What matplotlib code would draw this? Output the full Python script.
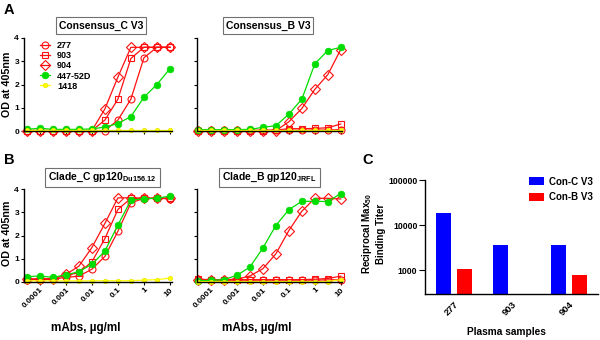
import numpy as np
import matplotlib
matplotlib.use("Agg")
import matplotlib.pyplot as plt

plt.rcParams['font.family'] = ['Liberation Sans', 'DejaVu Sans']
plt.rcParams['font.weight'] = 'bold'
plt.rcParams['mathtext.fontset'] = 'custom'
plt.rcParams['mathtext.rm'] = 'Liberation Sans:bold'
plt.rcParams['mathtext.bf'] = 'Liberation Sans:bold'
plt.rcParams['mathtext.it'] = 'Liberation Sans:bold'

# ---------------- data ----------------
conc = [0.0000316, 0.0001, 0.000316, 0.001, 0.00316, 0.01,
        0.0316, 0.1, 0.316, 1, 3.16, 10]
mabs = ['277', '903', '904', '447-52D', '1418']

# Panel A left: Consensus_C V3
cC_277 = [0.02, 0.02, 0.02, 0.02, 0.02, 0.02, 0.02, 0.47, 1.37, 3.15, 3.6, 3.6]
cC_903 = [0.02, 0.02, 0.02, 0.02, 0.02, 0.02, 0.47, 1.37, 3.12, 3.6, 3.6, 3.6]
cC_904 = [0.02, 0.02, 0.02, 0.02, 0.02, 0.02, 0.95, 2.32, 3.6, 3.6, 3.6, 3.6]
cC_447 = [0.07, 0.12, 0.07, 0.07, 0.07, 0.09, 0.17, 0.32, 0.62, 1.45, 2.0, 2.68]
cC_1418 = [0.05, 0.05, 0.05, 0.05, 0.05, 0.05, 0.05, 0.05, 0.05, 0.05, 0.05, 0.05]

# Panel A right: Consensus_B V3
cB_277 = [0.03, 0.03, 0.03, 0.03, 0.03, 0.03, 0.03, 0.03, 0.03, 0.04, 0.04, 0.06]
cB_903 = [0.02, 0.02, 0.02, 0.02, 0.02, 0.02, 0.04, 0.1, 0.1, 0.11, 0.14, 0.3]
cB_904 = [0.02, 0.02, 0.02, 0.02, 0.02, 0.02, 0.02, 0.4, 0.97, 1.79, 2.42, 3.5]
cB_447 = [0.06, 0.06, 0.06, 0.06, 0.07, 0.16, 0.23, 0.73, 1.37, 2.89, 3.46, 3.6]
cB_1418 = [0.03, 0.03, 0.03, 0.03, 0.03, 0.03, 0.03, 0.03, 0.03, 0.03, 0.03, 0.03]

# Panel B left: Clade_C gp120 Du156.12
gC_277 = [0.1, 0.1, 0.12, 0.2, 0.25, 0.55, 1.1, 2.18, 3.4, 3.6, 3.6, 3.58]
gC_903 = [0.12, 0.13, 0.15, 0.28, 0.4, 0.87, 1.87, 3.12, 3.6, 3.6, 3.6, 3.6]
gC_904 = [0.12, 0.13, 0.15, 0.33, 0.68, 1.48, 2.52, 3.62, 3.62, 3.6, 3.6, 3.6]
gC_447 = [0.23, 0.26, 0.2, 0.3, 0.45, 0.76, 1.33, 2.45, 3.52, 3.58, 3.6, 3.7]
gC_1418 = [0.05, 0.05, 0.05, 0.05, 0.05, 0.05, 0.06, 0.05, 0.06, 0.08, 0.1, 0.17]

# Panel B right: Clade_B gp120 JRFL
gB_277 = [0.08, 0.08, 0.08, 0.08, 0.08, 0.08, 0.08, 0.08, 0.08, 0.08, 0.09, 0.1]
gB_903 = [0.12, 0.1, 0.1, 0.1, 0.1, 0.1, 0.1, 0.1, 0.1, 0.12, 0.15, 0.25]
gB_904 = [0.1, 0.1, 0.1, 0.12, 0.26, 0.57, 1.21, 2.21, 3.04, 3.6, 3.6, 3.57]
gB_447 = [0.05, 0.07, 0.1, 0.29, 0.64, 1.46, 2.43, 3.11, 3.47, 3.47, 3.46, 3.8]
gB_1418 = [0.02, 0.02, 0.02, 0.02, 0.02, 0.02, 0.02, 0.02, 0.02, 0.02, 0.02, 0.1]

# Panel C
samples = ['277', '903', '904']
conC_titer = [18500, 3700, 3700]
conB_titer = [1090, np.nan, 800]

# ---------------- figure ----------------
W, H = 600, 340
fig = plt.figure(figsize=(6, 3.4), dpi=100)


def px_axes(x0, y0, x1, y1):
    return fig.add_axes([x0 / W, 1 - y1 / H, (x1 - x0) / W, (y1 - y0) / H])


def ftext(x, y, s, **kw):
    return fig.text(x / W, 1 - y / H, s, **kw)


RED = '#FF1010'
GREEN = '#00DD00'
YEL = '#FFFF00'
styles = [
    dict(color=RED, marker='o', mfc='none', mec=RED, ms=5, mew=0.8),
    dict(color=RED, marker='s', mfc='none', mec=RED, ms=4.6, mew=0.8),
    dict(color=RED, marker='D', mfc='none', mec=RED, ms=4.6, mew=0.8),
    dict(color=GREEN, marker='o', mfc=GREEN, mec=GREEN, ms=4.8, mew=0.5),
    dict(color=YEL, marker='o', mfc=YEL, mec='#E6E600', ms=3.2, mew=0.5),
]


def od_panel(ax, series, xl, show_xlabels, show_ylabels):
    lines = []
    for s, st, lab in zip(series, styles, mabs):
        ln, = ax.plot(conc, s, lw=0.9, clip_on=False, label=lab, **st)
        lines.append(ln)
    ax.set_xscale('log')
    ax.set_xlim(*xl)
    ax.set_ylim(0, 4)
    ax.set_yticks([0, 1, 2, 3, 4])
    ax.set_xticks([0.0001, 0.001, 0.01, 0.1, 1, 10])
    ax.xaxis.set_minor_locator(matplotlib.ticker.NullLocator())
    for sp in ['top', 'right']:
        ax.spines[sp].set_visible(False)
    for sp in ['left', 'bottom']:
        ax.spines[sp].set_linewidth(1.0)
    ax.tick_params(length=2.2, width=0.8, labelsize=6, pad=1)
    if show_xlabels:
        ax.set_xticklabels(['0.0001', '0.001', '0.01', '0.1', '1', '10'],
                           rotation=45, ha='right', va='top',
                           rotation_mode='anchor', fontsize=6, fontweight='bold')
    else:
        ax.set_xticklabels([])
    if not show_ylabels:
        ax.set_yticklabels([])
    else:
        for t in ax.get_yticklabels():
            t.set_fontweight('bold')
    return lines


axA1 = px_axes(23.5, 38, 172, 131)
axA2 = px_axes(197, 38, 342, 131)
axB1 = px_axes(23.5, 189, 172, 282)
axB2 = px_axes(196.7, 189, 342, 282)

lines = od_panel(axA1, [cC_277, cC_903, cC_904, cC_447, cC_1418],
                 (10 ** -4.63, 10 ** 1.08), False, True)
od_panel(axA2, [cB_277, cB_903, cB_904, cB_447, cB_1418],
         (10 ** -4.55, 10 ** 1.05), False, False)
od_panel(axB1, [gC_277, gC_903, gC_904, gC_447, gC_1418],
         (10 ** -4.63, 10 ** 1.08), True, True)
od_panel(axB2, [gB_277, gB_903, gB_904, gB_447, gB_1418],
         (10 ** -4.55, 10 ** 1.05), True, False)

leg = axA1.legend(handles=lines, loc='upper left', bbox_to_anchor=(0.11, 0.965),
                  frameon=False, handlelength=1.15, handletextpad=0.75,
                  labelspacing=0.12, borderpad=0, borderaxespad=0,
                  prop=dict(family='Liberation Sans', weight='bold', size=6.5))

# titles in boxes
box = dict(boxstyle='square,pad=0.3', fc='white', ec='#707070', lw=0.8)
tkw = dict(ha='center', va='center', fontsize=7.5, fontweight='bold', bbox=box)
ftext(101, 25.5, 'Consensus_C V3', **tkw)
ftext(268, 25.5, 'Consensus_B V3', **tkw)
ftext(102.5, 177.5, r'Clade_C gp120$_{\mathrm{Du156.12}}$', **tkw)
ftext(269.5, 177.5, r'Clade_B gp120$_{\mathrm{JRFL}}$', **tkw)

# y labels
ftext(7, 84, 'OD at 405nm', rotation=90, ha='center', va='center',
      fontsize=7.7, fontweight='bold')
ftext(7, 233, 'OD at 405nm', rotation=90, ha='center', va='center',
      fontsize=7.7, fontweight='bold')
# x labels
ftext(86, 328, 'mAbs, \u00b5g/ml', ha='center', va='center', fontsize=8.4, fontweight='bold')
ftext(257, 328, 'mAbs, \u00b5g/ml', ha='center', va='center', fontsize=8.4, fontweight='bold')

# panel letters
for L, x, y in [('A', 4, 10), ('B', 4, 160), ('C', 362, 160)]:
    ftext(x, y, L, ha='left', va='center', fontsize=10.5, fontweight='bold')

# ---------------- panel C ----------------
axC = px_axes(425, 180, 598, 294)
xpos = np.arange(len(samples))
bw = 0.26
off = 0.183
axC.bar(xpos - off, conC_titer, width=bw, color='#0000FF', label='Con-C V3')
axC.bar(xpos + off, conB_titer, width=bw, color='#FF0000', label='Con-B V3')
axC.set_yscale('log')
axC.set_ylim(300, 100000)
axC.set_xlim(-0.5, 2.5)
axC.set_yticks([1000, 10000, 100000])
axC.set_yticklabels(['1000', '10000', '100000'], fontsize=6.3, fontweight='bold')
axC.yaxis.set_minor_locator(matplotlib.ticker.NullLocator())
axC.set_xticks(xpos)
axC.set_xticklabels(samples, rotation=45, ha='right', va='top',
                    rotation_mode='anchor', fontsize=6.8, fontweight='bold')
axC.tick_params(axis='y', length=4.5, width=0.8, pad=1)
axC.tick_params(axis='x', length=0, pad=4)
for sp in ['top', 'right']:
    axC.spines[sp].set_visible(False)
for sp in ['left', 'bottom']:
    axC.spines[sp].set_linewidth(1.0)
axC.legend(loc='upper left', bbox_to_anchor=(0.6, 1.03), frameon=False,
           handlelength=1.6, handleheight=0.9, handletextpad=0.5,
           labelspacing=0.55, borderpad=0, borderaxespad=0,
           prop=dict(family='Liberation Sans', weight='bold', size=7))

ftext(373, 234, 'Reciprocal Max$_{50}$\nBinding Titer', rotation=90,
      ha='center', va='center', fontsize=7, fontweight='bold',
      multialignment='center', linespacing=1.25)
ftext(506, 332, 'Plasma samples', ha='center', va='center', fontsize=7.3,
      fontweight='bold')

fig.savefig('out.png', dpi=100)
